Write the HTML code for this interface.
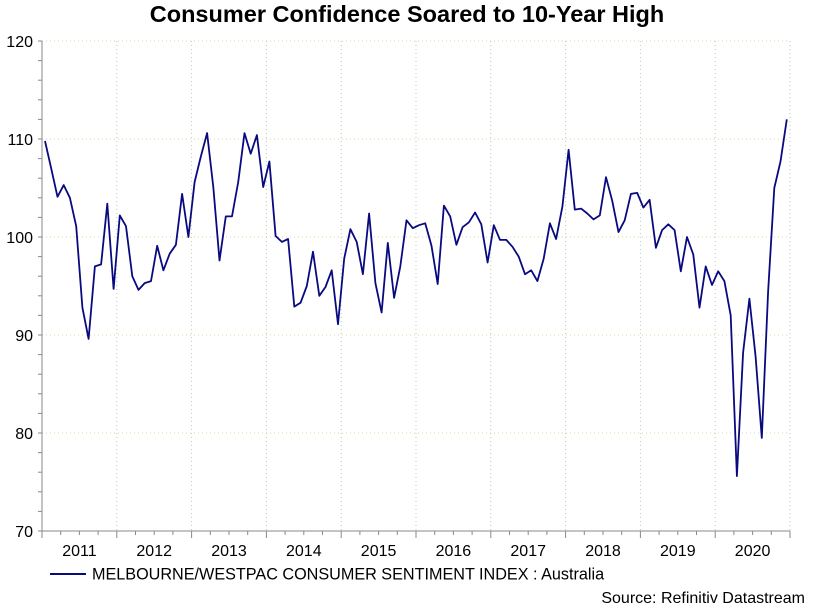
<!DOCTYPE html>
<html><head><meta charset="utf-8"><style>
body{margin:0;background:#fff;}
svg{display:block;font-family:"Liberation Sans",Arial,sans-serif;}
</style></head><body>
<svg id="chart" width="814" height="609" viewBox="0 0 814 609" xmlns="http://www.w3.org/2000/svg">
<text x="407" y="22" text-anchor="middle" font-size="23.5" font-weight="bold" fill="#000">Consumer Confidence Soared to 10-Year High</text>
<g id="grid"></g><g id="axes"></g><g id="series"></g>
<line x1="50" y1="574" x2="86" y2="574" stroke="#0a0a80" stroke-width="2"/>
<text x="92" y="579.5" font-size="16.2" fill="#000">MELBOURNE/WESTPAC CONSUMER SENTIMENT INDEX : Australia</text>
<text x="805" y="603" text-anchor="end" font-size="16" fill="#000">Source: Refinitiv Datastream</text>
</svg>
<script>
const years = ["2011","2012","2013","2014","2015","2016","2017","2018","2019","2020"];
const yTicks = [70,80,90,100,110,120];
const v2011 = [109.8,107.0,104.1,105.3,104.0,101.1,92.8,89.6,97.0,97.2,103.4,94.7];
const v2012 = [102.2,101.1,96.0,94.6,95.3,95.5,99.1,96.6,98.3,99.2,104.4,100.0];
const v2013 = [105.6,108.2,110.6,105.1,97.6,102.1,102.1,105.6,110.6,108.5,110.4,105.1];
const v2014 = [107.7,100.1,99.5,99.8,92.9,93.3,95.0,98.5,94.0,94.9,96.6,91.1];
const v2015 = [97.8,100.8,99.5,96.2,102.4,95.3,92.3,99.4,93.8,97.0,101.7,100.9];
const v2016 = [101.2,101.4,99.1,95.2,103.2,102.1,99.2,101.0,101.5,102.5,101.3,97.4];
const v2017 = [101.2,99.7,99.7,99.0,98.0,96.2,96.6,95.5,97.8,101.4,99.8,103.1];
const v2018 = [108.9,102.8,102.9,102.4,101.8,102.2,106.1,103.7,100.5,101.7,104.4,104.5];
const v2019 = [103.0,103.8,98.9,100.7,101.3,100.7,96.5,100.0,98.2,92.8,97.0,95.1];
const v2020 = [96.5,95.5,92.0,75.6,88.2,93.7,87.8,79.5,94.4,105.0,107.7,112.0];
const values = [].concat(v2011,v2012,v2013,v2014,v2015,v2016,v2017,v2018,v2019,v2020);

const NS="http://www.w3.org/2000/svg";
const L=42,R=790,T=41,B=531,yMin=70,yMax=120;
const yearW=(R-L)/years.length, monW=yearW/12;
function ys(v){return B-(v-yMin)/(yMax-yMin)*(B-T);}
function xs(i){return L+3+i*monW;}
function mk(tag,attrs,parent){const e=document.createElementNS(NS,tag);for(const k in attrs)e.setAttribute(k,attrs[k]);parent.appendChild(e);return e;}
const grid=document.getElementById('grid'),axes=document.getElementById('axes'),series=document.getElementById('series');
yTicks.forEach(t=>{
  if(t>yMin){const g=mk('line',{x1:L,x2:R,y1:ys(t),y2:ys(t),stroke:'#d8d8a0','stroke-width':1,'stroke-dasharray':'1,3'},grid);
  
  }
  const tx=mk('text',{x:L-9,y:ys(t)+6,'text-anchor':'end','font-size':16,fill:'#000'},axes);
  
  
  tx.textContent=t;
});
for(let v=yMin;v<=yMax;v+=2){mk('line',{x1:L-4,x2:L,y1:ys(v),y2:ys(v),stroke:'#888'},axes);}
for(let k=1;k<=years.length;k++){
  const gx=L+k*yearW;
  const g=mk('line',{x1:gx,x2:gx,y1:T,y2:B,stroke:'#b0d0b0','stroke-width':1,'stroke-dasharray':'1,3'},grid);
  
  
}
for(let q=0;q<=years.length*4;q++){const qx=L+q*yearW/4;mk('line',{x1:qx,x2:qx,y1:B,y2:B+(q%4==0?7:4),stroke:'#888'},axes);}
years.forEach((y,k)=>{
  const tx=mk('text',{x:L+(k+0.5)*yearW,y:B+25,'text-anchor':'middle','font-size':16,fill:'#000'},axes);
  
  
  tx.textContent=y;
});
const ya=mk('line',{x1:L,x2:L,y1:T,y2:B,stroke:'#888'},axes);


const xa=mk('line',{x1:L,x2:R,y1:B,y2:B,stroke:'#888'},axes);


const pts=values.map((v,i)=>xs(i).toFixed(1)+','+ys(v).toFixed(1)).join(' ');
const pl=mk('polyline',{points:pts,fill:'none',stroke:'#0a0a80','stroke-width':1.8,'stroke-linejoin':'round'},series);


</script>
</body></html>
